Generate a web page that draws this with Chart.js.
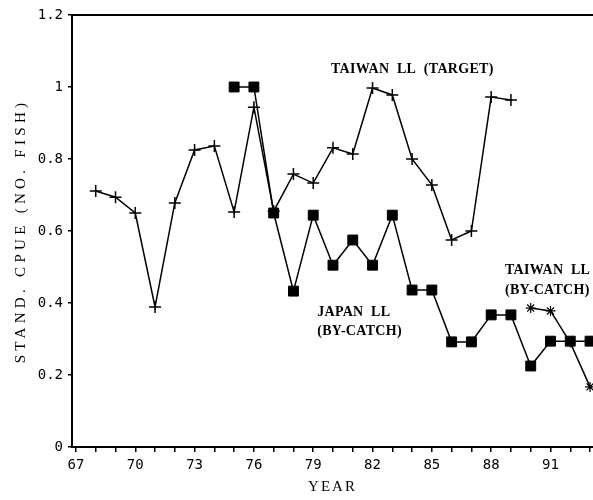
<!DOCTYPE html>
<html>
<head>
<meta charset="utf-8">
<script src="https://cdn.jsdelivr.net/npm/chart.js@4.4.0/dist/chart.umd.min.js"></script>
<style>
  html, body { margin: 0; padding: 0; background: #fff; }
  #wrap { width: 593px; height: 500px; }
</style>
</head>
<body>
<div id="wrap"><canvas id="chart" width="593" height="500"></canvas></div>
<script>
// Taiwan longline (target), 1968-1989
const targetYears = [68, 69, 70, 71, 72, 73, 74, 75, 76, 77, 78, 79, 80, 81, 82, 83, 84, 85, 86, 87, 88, 89];
const targetCpue = [0.711, 0.694, 0.65, 0.389, 0.678, 0.825, 0.836, 0.653, 0.944, 0.655, 0.758, 0.733,
                    0.831, 0.814, 0.997, 0.978, 0.80, 0.728, 0.575, 0.60, 0.972, 0.964];

// Japan longline (by-catch), 1975-1993
const japanYears = [75, 76, 77, 78, 79, 80, 81, 82, 83, 84, 85, 86, 87, 88, 89, 90, 91, 92, 93];
const japanCpue = [1.0, 1.0, 0.65, 0.433, 0.644, 0.505, 0.575, 0.505, 0.644, 0.436, 0.436,
                   0.292, 0.292, 0.367, 0.367, 0.225, 0.294, 0.294, 0.294];

// Taiwan longline (by-catch), 1990-1993
const bycatchYears = [90, 91, 92, 93];
const bycatchCpue = [0.386, 0.378, 0.29, 0.167];

const yTicks = [0, 0.2, 0.4, 0.6, 0.8, 1, 1.2];

// text labels placed inside the plot (data coordinates)
const notes = [
  { text: 'TAIWAN  LL  (TARGET)', x: 79.9, y: 1.05 },
  { text: 'JAPAN  LL', x: 79.2, y: 0.375 },
  { text: '(BY-CATCH)', x: 79.2, y: 0.32 },
  { text: 'TAIWAN  LL', x: 88.7, y: 0.49 },
  { text: '(BY-CATCH)', x: 88.7, y: 0.435 }
];

const toPoints = (xs, ys) => xs.map((x, i) => ({ x: x, y: ys[i] }));

const frameAndNotes = {
  id: 'frameAndNotes',
  afterDraw(chart) {
    const { ctx, chartArea, scales } = chart;
    ctx.save();
    // top frame line
    ctx.strokeStyle = '#000';
    ctx.lineWidth = 2;
    ctx.beginPath();
    ctx.moveTo(chartArea.left, chartArea.top);
    ctx.lineTo(chartArea.right, chartArea.top);
    ctx.stroke();
    // notes
    ctx.fillStyle = '#000';
    ctx.font = 'bold 14px "Liberation Serif"';
    ctx.letterSpacing = '0.3px';
    ctx.textAlign = 'left';
    ctx.textBaseline = 'middle';
    notes.forEach(n => {
      ctx.fillText(n.text, scales.x.getPixelForValue(n.x), scales.y.getPixelForValue(n.y));
    });
    ctx.restore();
  }
};

function spacedTitle(scale, spacing) {
  if (scale._spaced) return;
  const orig = scale.drawTitle.bind(scale);
  scale.drawTitle = function () {
    this.ctx.save();
    this.ctx.letterSpacing = spacing;
    orig();
    this.ctx.restore();
  };
  scale._spaced = true;
}

new Chart(document.getElementById('chart'), {
  type: 'line',
  data: {
    datasets: [
      {
        label: 'TAIWAN LL (TARGET)',
        data: toPoints(targetYears, targetCpue),
        borderColor: '#000',
        backgroundColor: '#000',
        borderWidth: 1.5,
        pointStyle: 'cross',
        pointRadius: 6,
        pointBorderWidth: 1.5,
        tension: 0
      },
      {
        label: 'JAPAN LL (BY-CATCH)',
        data: toPoints(japanYears, japanCpue),
        borderColor: '#000',
        backgroundColor: '#000',
        borderWidth: 1.5,
        pointStyle: 'rect',
        pointRadius: 7,
        pointBorderWidth: 1,
        tension: 0
      },
      {
        label: 'TAIWAN LL (BY-CATCH)',
        data: toPoints(bycatchYears, bycatchCpue),
        borderColor: '#000',
        backgroundColor: '#000',
        borderWidth: 1.5,
        pointStyle: 'star',
        pointRadius: 5,
        pointBorderWidth: 1.2,
        tension: 0
      }
    ]
  },
  options: {
    responsive: false,
    devicePixelRatio: 1,
    animation: false,
    layout: { autoPadding: false, padding: { top: 15, left: 0, right: 0, bottom: 0 } },
    plugins: { legend: { display: false }, tooltip: { enabled: false } },
    scales: {
      x: {
        type: 'linear',
        min: 66.8,
        max: 93.15,
        afterFit(s) {
          s.height = 53;
          s.paddingLeft = 0;
          s.paddingRight = 0;
          spacedTitle(s, '2px');
        },
        grid: { display: true, drawOnChartArea: false, tickLength: 5, color: '#000', lineWidth: 1.5 },
        border: { display: true, color: '#000', width: 2 },
        ticks: {
          stepSize: 1,
          includeBounds: false,
          autoSkip: false,
          maxRotation: 0,
          padding: 5,
          color: '#000',
          font: { family: '"DejaVu Sans Mono"', size: 14 },
          callback: v => (Math.round(v) % 3 === 1 ? String(Math.round(v)) : '')
        },
        title: {
          display: true,
          text: 'YEAR',
          color: '#000',
          font: { family: '"Liberation Serif"', size: 15 },
          padding: { top: 0, bottom: 4 }
        }
      },
      y: {
        min: 0,
        max: 1.2,
        afterFit(s) {
          s.width = 72;
          s.paddingTop = 0;
          s.paddingBottom = 0;
          spacedTitle(s, '4.3px');
        },
        afterBuildTicks(s) { s.ticks = yTicks.map(v => ({ value: v })); },
        grid: { display: true, drawOnChartArea: false, tickLength: 4, color: '#000', lineWidth: 1.5 },
        border: { display: true, color: '#000', width: 2 },
        ticks: {
          padding: 5,
          color: '#000',
          font: { family: '"DejaVu Sans Mono"', size: 14 },
          callback: v => String(Math.round(v * 10) / 10)
        },
        title: {
          display: true,
          text: 'STAND. CPUE (NO. FISH)',
          color: '#000',
          font: { family: '"Liberation Serif"', size: 15 },
          padding: { top: 12, bottom: 0 }
        }
      }
    }
  },
  plugins: [frameAndNotes]
});
</script>
</body>
</html>
